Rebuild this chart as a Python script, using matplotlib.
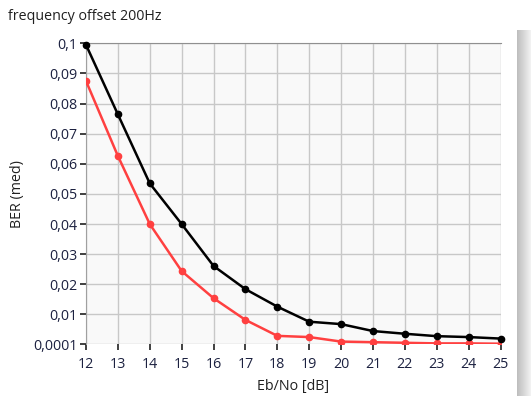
import numpy as np
import matplotlib
matplotlib.use("Agg")
from matplotlib import pyplot as plt

# Eb/No [dB]
ebno = [12, 13, 14, 15, 16, 17, 18, 19, 20, 21, 22, 23, 24, 25]
# BER curves
ber_black = [0.0995, 0.0764, 0.0535, 0.0400, 0.0261, 0.0184, 0.0126,
             0.0076, 0.0068, 0.0045, 0.0036, 0.0028, 0.0025, 0.0020]
ber_red = [0.0875, 0.0626, 0.0400, 0.0244, 0.0154, 0.0082, 0.0029,
           0.0025, 0.0010, 0.0008, 0.0006, 0.0004, 0.0004, 0.0003]
y_ticks = [0.0001, 0.01, 0.02, 0.03, 0.04, 0.05, 0.06, 0.07, 0.08, 0.09, 0.1]
y_labels = ["0,0001", "0,01", "0,02", "0,03", "0,04", "0,05",
            "0,06", "0,07", "0,08", "0,09", "0,1"]

plt.rcParams["font.family"] = ["Open Sans", "DejaVu Sans"]
W, H = 531, 396
fs = 10.3
fig = plt.figure(figsize=(W / 100, H / 100), dpi=100)
fig.patch.set_facecolor("white")

ax = fig.add_axes([86 / W, 1 - 344.3 / H, (500.5 - 86) / W, (344.3 - 43.3) / H])
ax.set_facecolor("#f9f9f9")

ax.plot(ebno, ber_black, color="black", lw=1.8, marker="o", ms=4.5, zorder=4, clip_on=False)
ax.plot(ebno, ber_red, color="#ff4040", lw=1.8, marker="o", ms=4.5, zorder=3)

ax.set_xlim(12, 25)
ax.set_ylim(0.0001, 0.1)
ax.set_xticks(ebno)
ax.set_yticks(y_ticks)
ax.set_yticklabels(y_labels)
ax.grid(True, color="#c8c8c8", lw=1)
ax.set_axisbelow(True)

for side in ["right", "bottom"]:
    ax.spines[side].set_visible(False)
ax.spines["top"].set_color("#909090")
ax.spines["left"].set_color("#a0a0a0")

lab_col = "#1c2140"
ax.tick_params(axis="both", direction="out", length=4, width=1.2, color="#202020",
               labelsize=fs, labelcolor=lab_col)
ax.tick_params(axis="x", pad=5)
ax.tick_params(axis="y", pad=2)

ax.set_xlabel("Eb/No [dB]", fontsize=fs, color="#202020", labelpad=5)
ax.set_ylabel("BER (med)", fontsize=fs, color="#202020", labelpad=6)

fig.text(8 / W, 1 - 17 / H, "frequency offset 200Hz", fontsize=fs,
         color="#202020", va="center", ha="left")

# scrollbar-like strip on the right edge
sb = fig.add_axes([517 / W, 0, 14 / W, 1 - 30 / H])
grad = np.linspace(0.74, 0.95, 64).reshape(1, -1)
sb.imshow(grad, cmap="gray", vmin=0, vmax=1, aspect="auto")
sb.axis("off")

fig.savefig("out.png", dpi=100)
plt.close(fig)
